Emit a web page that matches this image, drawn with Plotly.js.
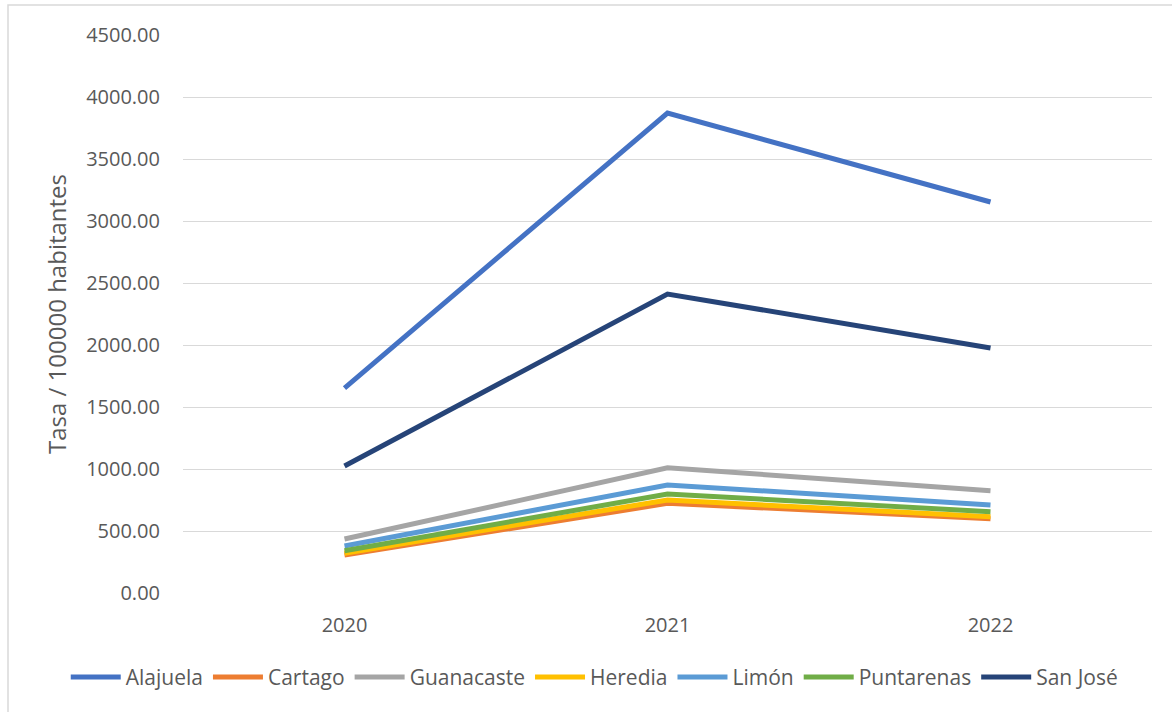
<!DOCTYPE html>
<html>
<head>
<meta charset="utf-8">
<script src="https://cdn.plot.ly/plotly-3.0.1.min.js"></script>
<style>
html,body{margin:0;padding:0;background:#fff;}
#chart{width:1172px;height:712px;}
</style>
</head>
<body>
<div id="chart"></div>
<script>
const years = ["2020", "2021", "2022"];
const alajuela   = [1653, 3871, 3153];
const cartago    = [306, 723, 599];
const guanacaste = [435, 1010, 825];
const heredia    = [320, 750, 615];
const limon      = [379, 871, 710];
const puntarenas = [341, 798, 656];
const sanJose    = [1024, 2411, 1976];

const names  = ["Alajuela", "Cartago", "Guanacaste", "Heredia", "Limón", "Puntarenas", "San José"];
const series = [alajuela, cartago, guanacaste, heredia, limon, puntarenas, sanJose];
const colors = ["#4472C4", "#ED7D31", "#A5A5A5", "#FFC000", "#5B9BD5", "#70AD47", "#264478"];

const traces = names.map((n, i) => ({
  type: "scatter",
  mode: "lines",
  name: n,
  x: years,
  y: series[i],
  line: {color: colors[i], width: 5},
  hoverinfo: "x+y+name"
}));

const layout = {
  width: 1172,
  height: 712,
  margin: {l: 183, r: 20, t: 35, b: 119},
  paper_bgcolor: "#ffffff",
  plot_bgcolor: "#ffffff",
  font: {family: "Open Sans, sans-serif", size: 20, color: "#595959"},
  showlegend: true,
  legend: {
    orientation: "h",
    x: -0.121, xanchor: "left",
    y: -0.151, yanchor: "middle",
    font: {size: 21, color: "#595959"},
    itemwidth: 50,
    tracegroupgap: 0
  },
  xaxis: {
    type: "category",
    range: [-0.5, 2.5],
    showgrid: false,
    zeroline: false,
    showline: false,
    ticks: "",
    ticklabelstandoff: 18,
    tickfont: {size: 20, color: "#595959"},
    fixedrange: true
  },
  yaxis: {
    range: [0, 4500],
    dtick: 500,
    tick0: 0,
    tickformat: ".2f",
    showgrid: true,
    gridcolor: "#D9D9D9",
    gridwidth: 1,
    zeroline: false,
    showline: false,
    ticks: "",
    ticklabelstandoff: 22,
    tickfont: {size: 20, color: "#595959"},
    title: {text: "Tasa / 100000 habitantes", font: {size: 24, color: "#595959"}, standoff: 12},
    fixedrange: true
  },
  shapes: [{
    type: "rect", xref: "paper", yref: "paper",
    x0: (8 - 183) / 969, x1: (1180 - 183) / 969,
    y0: (593 - 720) / 558, y1: (593 - 5) / 558,
    line: {color: "#D9D9D9", width: 1.5},
    fillcolor: "rgba(0,0,0,0)",
    layer: "below"
  }]
};

Plotly.newPlot("chart", traces, layout, {displayModeBar: false});
</script>
</body>
</html>
